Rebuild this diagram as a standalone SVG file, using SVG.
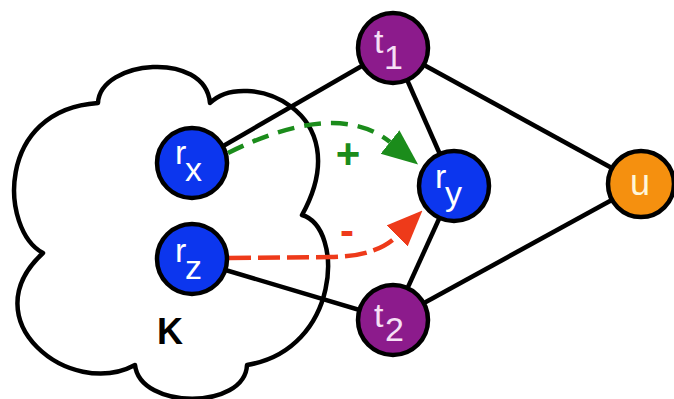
<svg xmlns="http://www.w3.org/2000/svg" width="674" height="399" viewBox="0 0 674 399">
<defs>
<style>
.cloud{fill:#fff;stroke:#000;stroke-width:4.5;stroke-linejoin:round}
.edge{stroke:#000;stroke-width:4.5;fill:none}
.node{stroke:#000;stroke-width:4.5}
.blue{fill:#0c36ee}
.purple{fill:#8c1b8c}
.orange{fill:#f5900f}
.lbl{font-family:"Liberation Sans",Arial,sans-serif;font-size:34px;fill:#fff}
.pos{stroke:#1b8c1b;stroke-width:4.5;fill:none;stroke-dasharray:17 10}
.neg{stroke:#ee3a1a;stroke-width:4.5;fill:none;stroke-dasharray:22 7}
.sign{font-family:"Liberation Sans",Arial,sans-serif;font-weight:bold;text-anchor:middle}
</style>
<marker id="ahG" markerUnits="userSpaceOnUse" markerWidth="36" markerHeight="32" viewBox="0 0 36 32" refX="0" refY="16" orient="auto">
<path d="M0,1 L36,16 L0,31 z" fill="#1b8c1b"/>
</marker>
<marker id="ahR" markerUnits="userSpaceOnUse" markerWidth="36" markerHeight="32" viewBox="0 0 36 32" refX="0" refY="16" orient="auto">
<path d="M0,1 L36,16 L0,31 z" fill="#ee3a1a"/>
</marker>
</defs>
<rect width="674" height="399" fill="#fff"/>
<g id="K">
<path class="cloud" d="M43,253 C0,230 -5,110 98,103 C100,60 205,50 210,103 C245,68 360,110 302,215 C345,228 340,350 247,365 C245,410 140,410 135,365 C70,400 -30,320 43,253 Z"/>
<text x="157" y="344" class="sign" style="font-size:36px;text-anchor:start;fill:#000">K</text>
</g>
<g id="connectors">
<line class="edge" x1="192" y1="164" x2="393" y2="48"/>
<line class="edge" x1="192" y1="260" x2="393" y2="320"/>
<line class="edge" x1="393" y1="48" x2="454" y2="186"/>
<line class="edge" x1="393" y1="320" x2="454" y2="186"/>
<line class="edge" x1="393" y1="48" x2="641" y2="184"/>
<line class="edge" x1="393" y1="320" x2="641" y2="184"/>
<path class="pos" d="M228,153 C290,122 350,110 390,142" marker-end="url(#ahG)"/>
<path class="neg" d="M229,258 L330,257 C355,257 381,252 397,236" marker-end="url(#ahR)"/>
<text class="sign" x="348" y="168" style="font-size:42px;fill:#1b8c1b">+</text>
<text class="sign" x="347" y="245" style="font-size:42px;fill:#ee3a1a">-</text>
</g>
<g id="rx">
<circle class="node blue" cx="192" cy="163" r="35"/>
<text class="lbl" x="175" y="164">r</text><text class="lbl" x="185" y="181">x</text>
</g>
<g id="rz">
<circle class="node blue" cx="192" cy="259" r="35"/>
<text class="lbl" x="175" y="262">r</text><text class="lbl" x="185" y="279">z</text>
</g>
<g id="t1">
<circle class="node purple" cx="393" cy="48" r="35"/>
<text class="lbl" x="374" y="53" style="fill:#f6e0f6">t</text><text class="lbl" x="384" y="69" style="fill:#f6e0f6">1</text>
</g>
<g id="t2">
<circle class="node purple" cx="393" cy="320" r="35"/>
<text class="lbl" x="374" y="327" style="fill:#f6e0f6">t</text><text class="lbl" x="385" y="341" style="fill:#f6e0f6">2</text>
</g>
<g id="ry">
<circle class="node blue" cx="454" cy="186" r="35"/>
<text class="lbl" x="435" y="188">r</text><text class="lbl" x="445" y="205">y</text>
</g>
<g id="u">
<circle class="node orange" cx="641" cy="184" r="33"/>
<text class="lbl" x="640" y="195" style="text-anchor:middle;font-size:36px;fill:#fff6d8">u</text>
</g>
</svg>
